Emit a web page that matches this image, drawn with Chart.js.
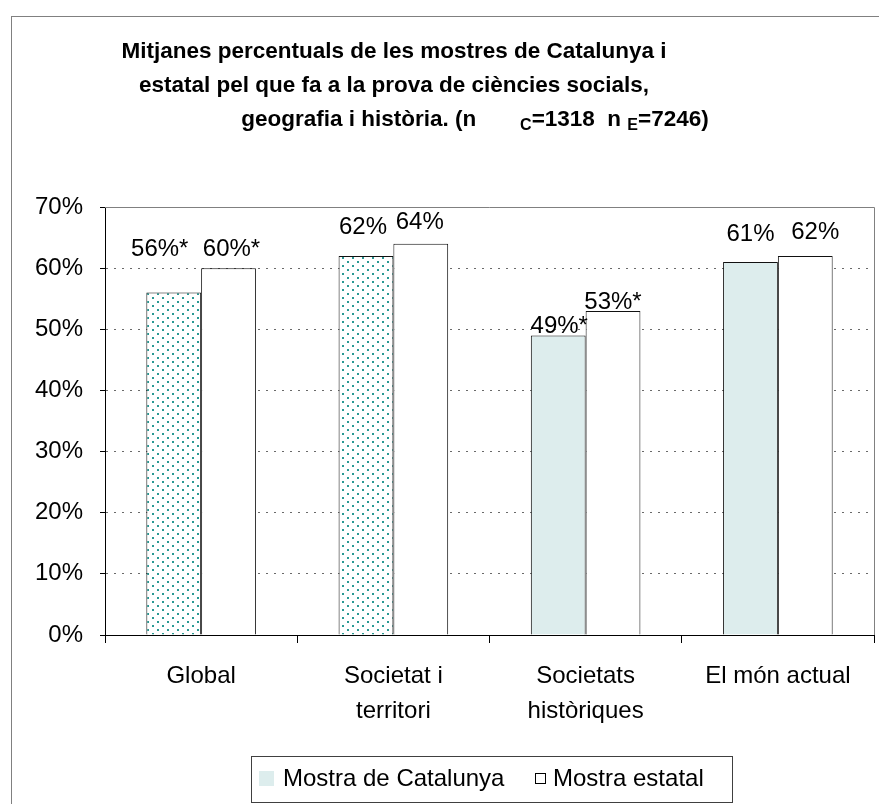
<!DOCTYPE html>
<html>
<head>
<meta charset="utf-8">
<script src="https://cdn.jsdelivr.net/npm/chart.js@4.4.1/dist/chart.umd.min.js"></script>
<style>
  html, body { margin: 0; padding: 0; background: #fff; }
  #grafic { display: block; }
</style>
</head>
<body>
<canvas id="grafic" width="879" height="804"></canvas>
<script>
// dades llegides del gràfic
const categories = ['Global', ['Societat i', 'territori'], ['Societats', 'històriques'], 'El món actual'];
const catalunya = [56, 62, 49, 61];
const estatal = [60, 64, 53, 62];
const asteriscCat = ['*', '', '*', ''];
const asteriscEst = ['*', '', '*', ''];
const yTicks = [0, 10, 20, 30, 40, 50, 60, 70];
const nomsSeries = ['Mostra de Catalunya', 'Mostra estatal'];
const titol = [
    'Mitjanes percentuals de les mostres de Catalunya i',
    'estatal pel que fa a la prova de ciències socials,'
];
const titolLinia3 = [
    { t: 'geografia i història. (n       ', sub: false },
    { t: 'C', sub: true },
    { t: '=1318  n ', sub: false },
    { t: 'E', sub: true },
    { t: '=7246)', sub: false }
];

const FONT = '"Liberation Sans", Arial, sans-serif';
const BLAU_CLAR = '#ddeded';

// trama de punts per a les dues primeres barres de Catalunya
function crearTrama() {
    const c = document.createElement('canvas');
    c.width = 10;
    c.height = 8;
    const x = c.getContext('2d');
    x.fillStyle = '#ffffff';
    x.fillRect(0, 0, 10, 8);
    x.fillStyle = '#2a9893';
    x.fillRect(2, 1, 2, 2);
    x.fillRect(7, 5, 2, 2);
    return document.getElementById('grafic').getContext('2d').createPattern(c, 'repeat');
}
const trama = crearTrama();

// desplaçaments de les etiquetes (com les va deixar l'Excel)
const pujaEtiqCat = [43, 29, 9, 28];
const pujaEtiqEst = [19, 21, 9, 24];
const movXEtiqCat = [-14, -3, 1, 0];
const movXEtiqEst = [3, -1, 0, 10];

const decoracio = {
    id: 'decoracio',
    beforeDraw(chart) {
        const ctx = chart.ctx;
        ctx.save();
        ctx.strokeStyle = '#808080';
        ctx.lineWidth = 1;
        ctx.strokeRect(11.5, 16.5, 1000, 1000);
        ctx.restore();
    },
    beforeDatasetsDraw(chart) {
        const ctx = chart.ctx;
        const a = chart.chartArea;
        ctx.save();
        ctx.strokeStyle = '#808080';
        ctx.lineWidth = 1;
        ctx.beginPath();
        ctx.moveTo(a.left, Math.round(a.top) + 0.5);
        ctx.lineTo(Math.round(a.right) + 0.5, Math.round(a.top) + 0.5);
        ctx.lineTo(Math.round(a.right) + 0.5, a.bottom);
        ctx.stroke();
        ctx.restore();
    },
    afterDatasetsDraw(chart) {
        const ctx = chart.ctx;
        ctx.save();
        ctx.font = '24px ' + FONT;
        ctx.fillStyle = '#000';
        ctx.textAlign = 'center';
        ctx.textBaseline = 'middle';
        const conf = [
            { vals: catalunya, ast: asteriscCat, puja: pujaEtiqCat, mx: movXEtiqCat },
            { vals: estatal, ast: asteriscEst, puja: pujaEtiqEst, mx: movXEtiqEst }
        ];
        conf.forEach((c, d) => {
            chart.getDatasetMeta(d).data.forEach((bar, i) => {
                ctx.fillText(c.vals[i] + '%' + c.ast[i], bar.x + c.mx[i], bar.y - c.puja[i]);
            });
        });
        ctx.restore();
    },
    afterDraw(chart) {
        const ctx = chart.ctx;
        ctx.save();
        // títol
        ctx.fillStyle = '#000';
        ctx.textBaseline = 'middle';
        ctx.textAlign = 'center';
        ctx.font = 'bold 22.5px ' + FONT;
        titol.forEach((l, i) => ctx.fillText(l, 394, 52 + i * 34));
        const fSub = 'bold 16px ' + FONT;
        const fNorm = 'bold 22.5px ' + FONT;
        let total = 0;
        titolLinia3.forEach(s => {
            ctx.font = s.sub ? fSub : fNorm;
            total += ctx.measureText(s.t).width;
        });
        let x = 475 - total / 2;
        ctx.textAlign = 'left';
        titolLinia3.forEach(s => {
            ctx.font = s.sub ? fSub : fNorm;
            ctx.fillText(s.t, x, s.sub ? 126 : 120);
            x += ctx.measureText(s.t).width;
        });

        // llegenda amb marc
        ctx.strokeStyle = '#404040';
        ctx.lineWidth = 1;
        ctx.strokeRect(251.5, 756.5, 481, 46);
        ctx.fillStyle = BLAU_CLAR;
        ctx.fillRect(259, 771, 15, 15);
        ctx.fillStyle = '#000';
        ctx.font = '24px ' + FONT;
        ctx.textBaseline = 'middle';
        ctx.fillText(nomsSeries[0], 283, 779);
        ctx.fillStyle = '#fff';
        ctx.fillRect(535, 773, 10, 10);
        ctx.strokeStyle = '#000';
        ctx.strokeRect(535.5, 773.5, 10, 10);
        ctx.fillStyle = '#000';
        ctx.fillText(nomsSeries[1], 553, 779);
        ctx.restore();
    }
};

const grafic = new Chart(document.getElementById('grafic'), {
    type: 'bar',
    data: {
        labels: categories,
        datasets: [
            {
                label: nomsSeries[0],
                data: catalunya,
                backgroundColor: (c) => c.dataIndex < 2 ? trama : BLAU_CLAR,
                borderColor: '#111',
                borderWidth: 1,
                barPercentage: 1,
                categoryPercentage: 0.57
            },
            {
                label: nomsSeries[1],
                data: estatal,
                backgroundColor: '#ffffff',
                borderColor: '#111',
                borderWidth: 1,
                barPercentage: 1,
                categoryPercentage: 0.57
            }
        ]
    },
    options: {
        responsive: false,
        animation: false,
        events: [],
        layout: {
            padding: { top: 207, right: 5, left: 0, bottom: 0 }
        },
        plugins: {
            legend: { display: false },
            title: { display: false },
            tooltip: { enabled: false }
        },
        scales: {
            x: {
                afterFit: (s) => { s.height = 169; },
                grid: {
                    offset: true,
                    drawOnChartArea: false,
                    drawTicks: true,
                    tickLength: 8,
                    tickColor: '#000'
                },
                border: { display: true, color: '#000', width: 1 },
                ticks: {
                    font: { family: FONT, size: 24, lineHeight: 1.46 },
                    color: '#000',
                    padding: 16,
                    maxRotation: 0,
                    autoSkip: false
                }
            },
            y: {
                min: 0,
                max: 70,
                afterFit: (s) => { s.width = 105; },
                afterBuildTicks: (s) => { s.ticks = yTicks.map(v => ({ value: v })); },
                grid: {
                    color: (c) => (c.tick && (c.tick.value === 0 || c.tick.value === 70)) ? 'rgba(0,0,0,0)' : '#6a6a6a',
                    lineWidth: 1,
                    drawTicks: true,
                    tickLength: 5,
                    tickColor: '#000'
                },
                border: { display: true, color: '#000', width: 1, dash: [2, 6] },
                ticks: {
                    font: { family: FONT, size: 24 },
                    color: '#000',
                    padding: 17,
                    callback: (v) => v + '%'
                }
            }
        }
    },
    plugins: [decoracio]
});
</script>
</body>
</html>
